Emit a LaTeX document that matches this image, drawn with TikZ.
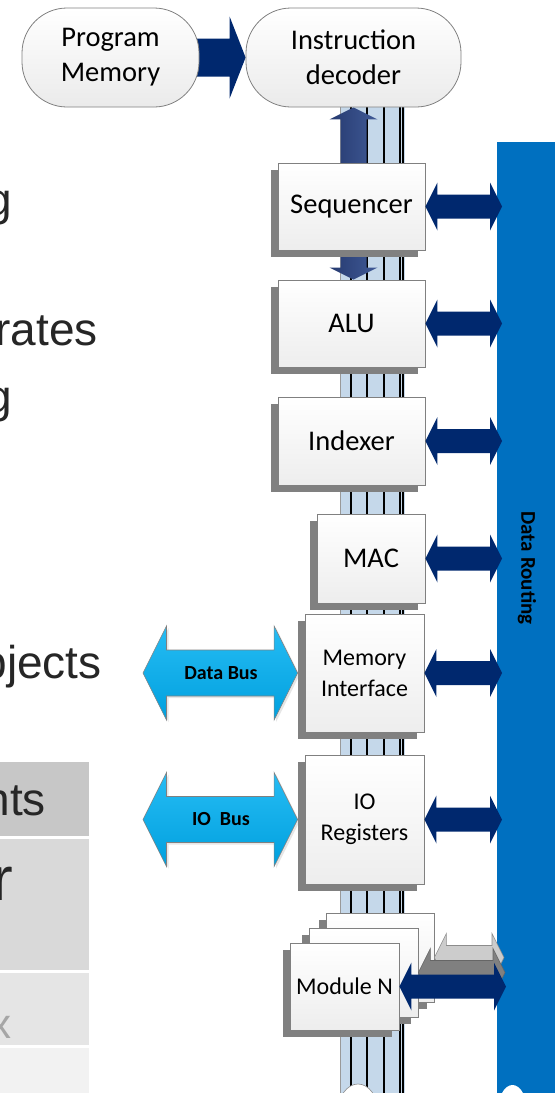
\documentclass[tikz,border=0pt]{standalone}
\usepackage{fontspec}
\setmainfont{Carlito}
\newfontfamily\slidefont{Liberation Sans}
\usepackage{xcolor}
\usetikzlibrary{calc,shadows,backgrounds}

\definecolor{navy}{RGB}{0,40,110}
\definecolor{busfill}{RGB}{197,216,234}
\definecolor{routeblue}{RGB}{0,112,192}
\definecolor{linkdark}{RGB}{38,58,112}
\definecolor{linklight}{RGB}{64,90,150}
\definecolor{extbus}{RGB}{0,160,222}
\definecolor{extbustop}{RGB}{38,188,244}
\definecolor{slidetext}{RGB}{38,38,38}

% block arrow with a head at both ends, left to right
\newcommand{\hdblarrow}[5][]{%
  \path[#1] let \p1=#2, \p2=#3, \n1={0.5*#5} in
    (\x1,\y1) -- ({\x1+\n1},{\y1+#5}) -- ({\x1+\n1},{\y1+#4})
    -- ({\x2-\n1},{\y1+#4}) -- ({\x2-\n1},{\y1+#5}) -- (\x2,\y1)
    -- ({\x2-\n1},{\y1-#5}) -- ({\x2-\n1},{\y1-#4})
    -- ({\x1+\n1},{\y1-#4}) -- ({\x1+\n1},{\y1-#5}) -- cycle;}
% same, top to bottom
\newcommand{\vdblarrow}[5][]{%
  \path[#1] let \p1=#2, \p2=#3, \n1={0.5*#5} in
    (\x1,\y1) -- ({\x1+#5},{\y1-\n1}) -- ({\x1+#4},{\y1-\n1})
    -- ({\x1+#4},{\y2+\n1}) -- ({\x1+#5},{\y2+\n1}) -- (\x1,\y2)
    -- ({\x1-#5},{\y2+\n1}) -- ({\x1-#4},{\y2+\n1})
    -- ({\x1-#4},{\y1-\n1}) -- ({\x1-#5},{\y1-\n1}) -- cycle;}

\begin{document}
\begin{tikzpicture}[x=1pt,y=-1pt,
  stadium/.style={draw=black!50,line width=0.8pt,rounded corners=45pt,
    top color=white,bottom color=black!8,inner sep=0pt,align=center,
    font=\fontsize{28.5}{35}\selectfont},
  unit/.style={draw=black!50,line width=0.8pt,top color=white,
    bottom color=black!7,inner sep=0pt,align=center,
    font=\fontsize{28.5}{35}\selectfont,
    drop shadow={shadow xshift=-7pt,shadow yshift=-7pt,fill=black!50,opacity=1}},
  small/.style={font=\fontsize{24}{31}\selectfont},
  link/.style={fill=navy},
  extbusarrow/.style={top color=extbustop,bottom color=extbus,
    draw=black!50,line width=0.6pt,
    drop shadow={shadow xshift=2pt,shadow yshift=-2pt,opacity=0.2}},
  buslabel/.style={font=\bfseries\fontsize{20}{24}\selectfont,inner sep=0pt},
  slideline/.style={anchor=base east,inner sep=0pt,text=slidetext,
    font=\slidefont\fontsize{46}{55}\selectfont}]
  \useasboundingbox (0,0) rectangle (558,1093);

  % slide text and table on the left
  \node[slideline] (lineA) at (12,215) {g};
  \node[slideline] (lineB) at (98,345) {rates};
  \node[slideline] (lineC) at (12,412) {g};
  \node[slideline] (lineD) at (102,678) {bjects};
  \fill[black!22] (0,762) rectangle (89,836);
  \fill[black!15] (0,839) rectangle (89,970);
  \fill[black!10] (0,973) rectangle (89,1045);
  \fill[black!5] (0,1048) rectangle (89,1093);
  \node[slideline] (headA) at (46,815) {nts};
  \node[slideline,font=\slidefont\fontsize{62}{70}\selectfont] (cellA) at (13,900) {r};
  \node[slideline,text=black!35,font=\slidefont\fontsize{42}{50}\selectfont] (cellB) at (12,1038) {x};

  % front end
  \node[stadium,minimum width=177pt,minimum height=99pt] (pm) at (110.5,57.5) {Program\\Memory};
  \node[stadium,minimum width=215pt,minimum height=99pt] (id) at (353.5,57.5) {Instruction\\decoder};

  % data routing bar
  \node[fill=routeblue,minimum width=58pt,minimum height=960pt,anchor=north west,inner sep=0pt] (route) at (497,142) {};
  \node[rotate=-90,font=\bfseries\fontsize{21}{25}\selectfont,text=black] (routetxt) at (527,568) {Data Routing};

  % processing units
  \node[unit,minimum width=147pt,minimum height=87pt] (seq) at (351.5,206.5) {Sequencer};
  \node[unit,minimum width=147pt,minimum height=87pt] (alu) at (351.5,323.5) {ALU};
  \node[unit,minimum width=147pt,minimum height=88pt] (idx) at (351.5,441) {Indexer};
  \node[unit,minimum width=108pt,minimum height=89pt] (mac) at (371,558.5) {MAC};
  \node[unit,small,minimum width=119pt,minimum height=118pt] (mem) at (364.5,673) {Memory\\Interface};
  \node[unit,small,minimum width=119pt,minimum height=129pt] (io) at (364.5,819.5) {IO\\Registers};

  \begin{scope}[on background layer]
    \path[fill=navy] let \p1=(pm.east), \p2=(id.west) in
      ({\x1-10pt},{\y1+19pt}) -- ({\x2-16pt},{\y1+19pt}) -- ({\x2-16pt},{\y1+41pt})
      -- (\x2,\y1) -- ({\x2-16pt},{\y1-41pt}) -- ({\x2-16pt},{\y1-19pt})
      -- ({\x1-10pt},{\y1-19pt}) -- cycle;
    % internal bus
    \fill[busfill] (340,107) rectangle (405,1093);
    \draw[black!40,line width=0.6pt] (340,107) -- (340,1093);
    \foreach \bx in {351,367,384,400,403}
      \draw[black,line width=1.1pt] (\bx,107) -- (\bx,1093);
    \vdblarrow[left color=linkdark,right color=linklight]{(id.south)}{(id.south |- alu.north)}{13pt}{24pt}
  \end{scope}

  % module stack
  \node[unit,small,minimum width=108pt,minimum height=89pt] (mb1) at (380,957.5) {};
  \hdblarrow[fill=black!20,draw=black!45,line width=0.6pt]{(mb1.east)}{($(mb1.east -| route.west)+(7,0)$)}{12pt}{24pt}
  \node[unit,small,minimum width=109pt,minimum height=89pt] (mb2) at (363.5,972.5) {};
  \hdblarrow[fill=black!50,draw=black!60,line width=0.6pt]{(mb2.east)}{($(mb2.east -| route.west)+(8,0)$)}{12pt}{24pt}
  \node[unit,small,minimum width=109pt,minimum height=87pt] (modn) at (344.5,986.5) {Module N};
  \hdblarrow[link]{(modn.east)}{($(modn.east -| route.west)+(9,0)$)}{12pt}{24pt}

  % links to the routing bar
  \foreach \u in {seq,alu,idx,mac,mem,io}
    \hdblarrow[link]{(\u.east)}{($(\u.east -| route.west)+(5,0)$)}{12pt}{24pt};

  % external buses
  \coordinate (dbend) at (143,673);
  \coordinate (iobend) at (143,819.5);
  \hdblarrow[extbusarrow]{(dbend)}{($(mem.west)+(-7,0)$)}{23pt}{47pt}
  \hdblarrow[extbusarrow]{(iobend)}{($(io.west)+(-7,0)$)}{23pt}{47pt}
  \node[buslabel] (dbus) at (221,673) {Data Bus};
  \node[buslabel] (iobus) at (221,819.5) {IO\ \ Bus};

  % shapes below the cut
  \draw[black!45,fill=white,line width=0.6pt] (358,1112) ellipse [x radius=20,y radius=28];
  \fill[white] (512.5,1113) ellipse [x radius=15,y radius=28];
\end{tikzpicture}
\end{document}
